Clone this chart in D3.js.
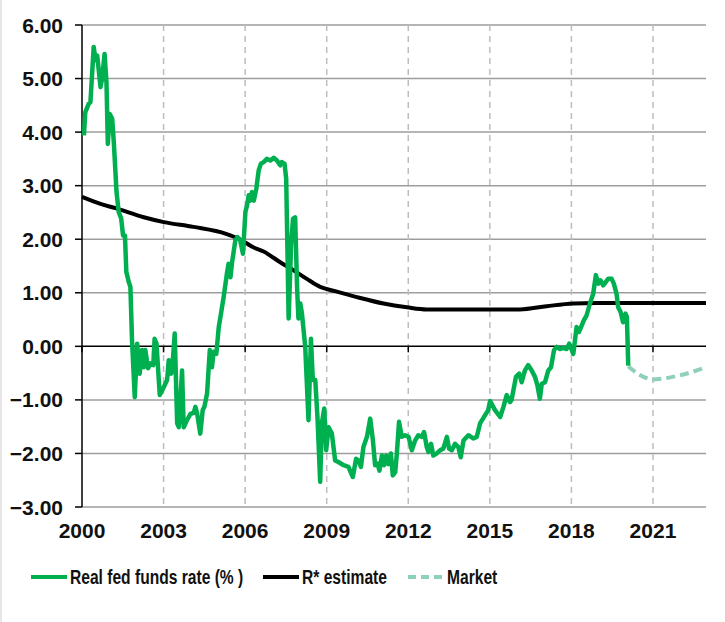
<!DOCTYPE html>
<html>
<head>
<meta charset="utf-8">
<script src="https://cdn.jsdelivr.net/npm/d3@7"></script>
<style>
  body { margin: 0; background: #fff; }
  svg { display: block; }
  .tick-label { font-family: "Liberation Sans", Arial, sans-serif; font-weight: bold; font-size: 21px; fill: #111; }
  .legend-label { font-family: "Liberation Sans", Arial, sans-serif; font-weight: bold; font-size: 20px; fill: #111; }
</style>
</head>
<body>
<script>
'use strict';

// real fed funds rate (%), [decimal year, value]
const realRate = [
  [2000.07, 3.94], [2000.12, 4.37], [2000.25, 4.53], [2000.31, 4.56], [2000.43, 5.59],
  [2000.50, 5.34], [2000.56, 5.43], [2000.68, 4.84], [2000.74, 5.00], [2000.83, 5.46],
  [2000.90, 4.93], [2000.95, 3.78], [2001.02, 4.34], [2001.11, 4.25], [2001.17, 3.81],
  [2001.27, 2.88], [2001.35, 2.51], [2001.44, 2.39], [2001.51, 2.07], [2001.58, 2.07],
  [2001.63, 1.39], [2001.72, 1.20], [2001.78, 1.11], [2001.84, 0.11], [2001.94, -0.95],
  [2002.03, 0.05], [2002.12, -0.51], [2002.21, -0.07], [2002.27, -0.39], [2002.33, -0.07],
  [2002.43, -0.41], [2002.52, -0.32], [2002.62, -0.35], [2002.67, 0.14], [2002.74, 0.05],
  [2002.86, -0.91], [2003.01, -0.76], [2003.13, -0.63], [2003.19, -0.26], [2003.28, -0.51],
  [2003.35, -0.20], [2003.41, 0.24], [2003.50, -1.44], [2003.56, -1.51], [2003.68, -0.45],
  [2003.74, -1.51], [2003.86, -1.38], [2003.99, -1.26], [2004.11, -1.24], [2004.17, -1.13],
  [2004.23, -1.24], [2004.35, -1.63], [2004.44, -1.19], [2004.50, -1.13], [2004.60, -0.88],
  [2004.70, -0.07], [2004.78, -0.39], [2004.84, -0.10], [2004.94, -0.14], [2005.03, 0.36],
  [2005.15, 0.73], [2005.21, 0.92], [2005.33, 1.36], [2005.39, 1.54], [2005.46, 1.29],
  [2005.52, 1.57], [2005.64, 1.98], [2005.72, 2.04], [2005.82, 1.98], [2005.92, 1.73],
  [2006.01, 2.51], [2006.07, 2.63], [2006.13, 2.82], [2006.19, 2.72], [2006.25, 2.88],
  [2006.32, 2.72], [2006.41, 2.94], [2006.50, 3.29], [2006.58, 3.41], [2006.68, 3.44],
  [2006.80, 3.50], [2006.93, 3.47], [2007.05, 3.52], [2007.17, 3.47], [2007.29, 3.38],
  [2007.35, 3.44], [2007.45, 3.41], [2007.51, 3.13], [2007.60, 0.52], [2007.69, 1.89],
  [2007.76, 2.38], [2007.84, 2.41], [2007.91, 1.10], [2007.96, 0.52], [2008.03, 0.80],
  [2008.09, 0.61], [2008.21, -0.01], [2008.33, -1.38], [2008.42, 0.14], [2008.49, -0.63],
  [2008.58, -0.63], [2008.66, -1.32], [2008.76, -2.53], [2008.82, -1.44], [2008.91, -1.16],
  [2008.98, -1.94], [2009.07, -1.51], [2009.19, -1.63], [2009.31, -2.13], [2009.43, -2.16],
  [2009.62, -2.22], [2009.80, -2.25], [2009.96, -2.44], [2010.08, -2.10], [2010.17, -2.13],
  [2010.26, -2.25], [2010.35, -1.88], [2010.48, -1.69], [2010.60, -1.35], [2010.70, -1.76],
  [2010.78, -2.22], [2010.87, -2.19], [2010.94, -2.32], [2011.03, -2.04], [2011.11, -2.22],
  [2011.19, -2.04], [2011.27, -2.20], [2011.36, -2.00], [2011.43, -2.41], [2011.52, -2.35],
  [2011.58, -2.00], [2011.66, -1.41], [2011.76, -1.69], [2011.88, -1.66], [2012.01, -1.69],
  [2012.13, -1.94], [2012.25, -1.76], [2012.37, -1.66], [2012.50, -1.69], [2012.58, -1.60],
  [2012.68, -1.88], [2012.74, -1.97], [2012.84, -1.82], [2012.92, -2.04], [2013.05, -2.00],
  [2013.17, -1.94], [2013.29, -1.91], [2013.42, -1.69], [2013.50, -1.91], [2013.60, -1.94],
  [2013.72, -1.82], [2013.84, -1.88], [2013.93, -2.07], [2014.03, -1.76], [2014.21, -1.66],
  [2014.39, -1.72], [2014.52, -1.69], [2014.64, -1.44], [2014.82, -1.29], [2014.94, -1.19],
  [2015.01, -1.02], [2015.19, -1.19], [2015.38, -1.32], [2015.50, -1.13], [2015.62, -0.91],
  [2015.74, -1.04], [2015.80, -1.00], [2015.96, -0.57], [2016.08, -0.51], [2016.17, -0.67],
  [2016.29, -0.45], [2016.41, -0.35], [2016.54, -0.45], [2016.66, -0.57], [2016.75, -0.73],
  [2016.84, -0.98], [2016.91, -0.70], [2017.03, -0.67], [2017.15, -0.45], [2017.25, -0.39],
  [2017.36, -0.07], [2017.46, -0.01], [2017.58, -0.05], [2017.70, -0.03], [2017.82, -0.05],
  [2017.92, 0.05], [2018.07, -0.14], [2018.19, 0.36], [2018.28, 0.27], [2018.38, 0.39],
  [2018.46, 0.49], [2018.56, 0.58], [2018.68, 0.80], [2018.80, 0.98], [2018.90, 1.33],
  [2018.99, 1.17], [2019.07, 1.23], [2019.17, 1.14], [2019.26, 1.20], [2019.35, 1.26],
  [2019.48, 1.26], [2019.56, 1.17], [2019.66, 0.98], [2019.72, 0.73], [2019.81, 0.64],
  [2019.90, 0.45], [2019.99, 0.61], [2020.04, 0.55], [2020.09, -0.36]
];

// R* estimate (%)
const rStar = [
  [2000.0, 2.79], [2000.68, 2.66], [2001.29, 2.57], [2002.27, 2.41], [2003.01, 2.32],
  [2004.1, 2.23], [2005.3, 2.10], [2005.8, 2.00], [2006.3, 1.85], [2006.68, 1.77],
  [2007.29, 1.57], [2007.78, 1.42], [2008.27, 1.26], [2008.76, 1.11], [2009.31, 1.03],
  [2010.11, 0.92], [2011.09, 0.80], [2011.95, 0.73], [2012.68, 0.69], [2016.11, 0.69],
  [2017.09, 0.75], [2018.07, 0.80], [2018.93, 0.81], [2022.95, 0.81]
];

// market-implied path (%)
const market = [
  [2020.09, -0.37], [2020.5, -0.53], [2020.8, -0.60], [2021.0, -0.62], [2021.4, -0.60],
  [2022.0, -0.54], [2022.5, -0.47], [2022.95, -0.39]
];

const yTicks = [6, 5, 4, 3, 2, 1, 0, -1, -2, -3];
const xTicks = [2000, 2003, 2006, 2009, 2012, 2015, 2018, 2021];

const legendItems = [
  { label: 'Real fed funds rate (% )', color: '#00b050', dash: null },
  { label: 'R* estimate', color: '#000000', dash: null },
  { label: 'Market', color: '#8fd0b9', dash: '9,5' }
];

const width = 725, height = 622;

const svg = d3.select('body')
  .append('svg')
  .attr('width', width)
  .attr('height', height);

// faint page edge on the left
svg.append('rect')
  .attr('x', 0).attr('y', 0)
  .attr('width', 2).attr('height', height)
  .attr('fill', '#e6e6e6');

const xScale = d3.scaleLinear()
  .domain([2000, 2022.95])
  .range([82, 706]);

const yScale = d3.scaleLinear()
  .domain([-3, 6])
  .range([507, 25]);

// horizontal grid
svg.append('g')
  .selectAll('line')
  .data(yTicks.filter(d => d !== 0))
  .enter()
  .append('line')
  .attr('x1', xScale(2000))
  .attr('x2', xScale(2022.95))
  .attr('y1', d => yScale(d))
  .attr('y2', d => yScale(d))
  .attr('stroke', '#9d9d9d')
  .attr('stroke-width', 1.5);

// vertical dashed grid
svg.append('g')
  .selectAll('line')
  .data(xTicks.filter(d => d !== 2000))
  .enter()
  .append('line')
  .attr('x1', d => xScale(d))
  .attr('x2', d => xScale(d))
  .attr('y1', yScale(6))
  .attr('y2', yScale(-3))
  .attr('stroke', '#bdbdbd')
  .attr('stroke-width', 1.5)
  .attr('stroke-dasharray', '6,5');

// zero line with year ticks
svg.append('line')
  .attr('x1', xScale(2000))
  .attr('x2', xScale(2022.95))
  .attr('y1', yScale(0))
  .attr('y2', yScale(0))
  .attr('stroke', '#000')
  .attr('stroke-width', 1.5);

svg.append('g')
  .selectAll('line')
  .data(xTicks)
  .enter()
  .append('line')
  .attr('x1', d => xScale(d))
  .attr('x2', d => xScale(d))
  .attr('y1', yScale(0))
  .attr('y2', yScale(0) + 6)
  .attr('stroke', '#000')
  .attr('stroke-width', 1.5);

// y axis line and ticks
svg.append('line')
  .attr('x1', xScale(2000))
  .attr('x2', xScale(2000))
  .attr('y1', yScale(6))
  .attr('y2', yScale(-3))
  .attr('stroke', '#000')
  .attr('stroke-width', 1.5);

svg.append('g')
  .selectAll('line')
  .data(yTicks)
  .enter()
  .append('line')
  .attr('x1', xScale(2000) - 7)
  .attr('x2', xScale(2000))
  .attr('y1', d => yScale(d))
  .attr('y2', d => yScale(d))
  .attr('stroke', '#000')
  .attr('stroke-width', 1.5);

// tick labels
svg.append('g')
  .selectAll('text')
  .data(yTicks)
  .enter()
  .append('text')
  .attr('class', 'tick-label')
  .attr('x', 63)
  .attr('y', d => yScale(d))
  .attr('dy', '0.36em')
  .attr('text-anchor', 'end')
  .text(d => d3.format('.2f')(d));

svg.append('g')
  .selectAll('text')
  .data(xTicks)
  .enter()
  .append('text')
  .attr('class', 'tick-label')
  .attr('x', d => xScale(d))
  .attr('y', 538)
  .attr('text-anchor', 'middle')
  .text(d => d);

// series
const line = d3.line()
  .x(d => xScale(d[0]))
  .y(d => yScale(d[1]));

const smoothLine = d3.line()
  .x(d => xScale(d[0]))
  .y(d => yScale(d[1]))
  .curve(d3.curveMonotoneX);

svg.append('path')
  .datum(rStar)
  .attr('d', smoothLine)
  .attr('fill', 'none')
  .attr('stroke', '#000')
  .attr('stroke-width', 4);

svg.append('path')
  .datum(market)
  .attr('d', smoothLine)
  .attr('fill', 'none')
  .attr('stroke', legendItems[2].color)
  .attr('stroke-width', 4)
  .attr('stroke-dasharray', legendItems[2].dash);

svg.append('path')
  .datum(realRate)
  .attr('d', line)
  .attr('fill', 'none')
  .attr('stroke', legendItems[0].color)
  .attr('stroke-width', 4.5)
  .attr('stroke-linejoin', 'round');

// legend (condensed text, like Arial Narrow)
const legendX = [31, 263, 408];
const legend = svg.append('g');

legendItems.forEach((item, i) => {
  const x0 = legendX[i];
  legend.append('line')
    .attr('x1', x0)
    .attr('x2', x0 + 36)
    .attr('y1', 577)
    .attr('y2', 577)
    .attr('stroke', item.color)
    .attr('stroke-width', 4)
    .attr('stroke-dasharray', item.dash ? '8,5' : null);

  legend.append('text')
    .attr('class', 'legend-label')
    .attr('transform', 'translate(' + (x0 + 39) + ',584) scale(0.78,1)')
    .text(item.label);
});
</script>
</body>
</html>
